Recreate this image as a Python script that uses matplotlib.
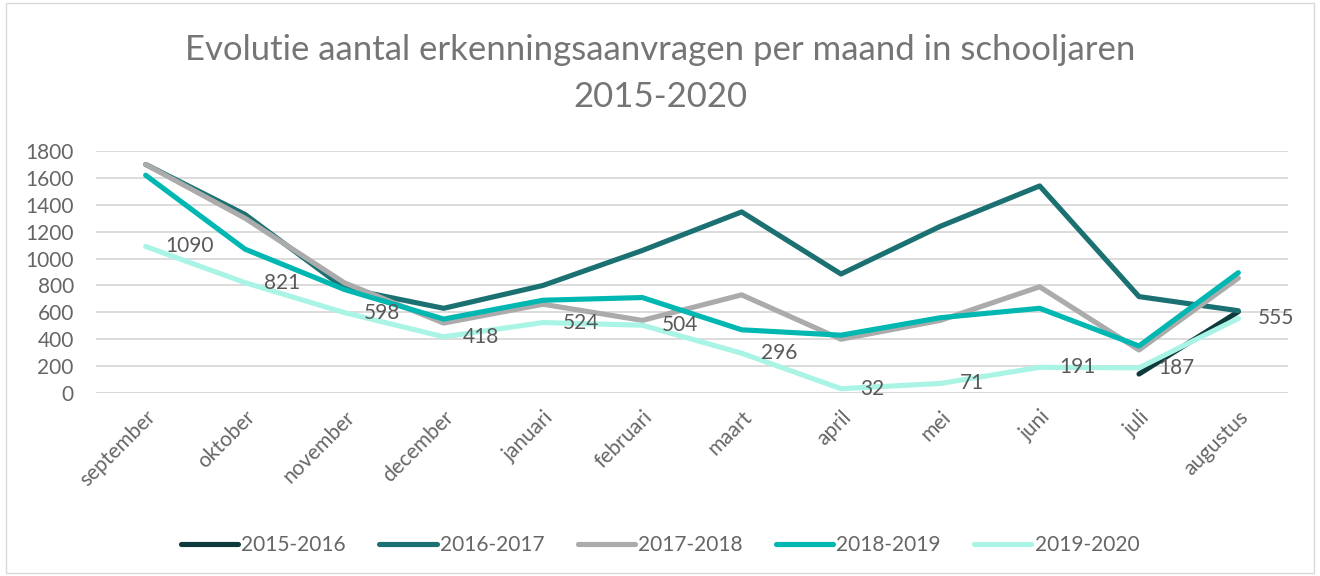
import matplotlib
matplotlib.use("Agg")
import matplotlib.pyplot as plt
import numpy as np

months = ["september", "oktober", "november", "december", "januari", "februari",
          "maart", "april", "mei", "juni", "juli", "augustus"]
s2015 = [None, None, None, None, None, None, None, None, None, None, 141, 605]
s2016 = [1700, 1328, 780, 630, 800, 1060, 1347, 885, 1240, 1540, 717, 612]
s2017 = [1700, 1300, 820, 520, 660, 540, 730, 400, 540, 790, 320, 855]
s2018 = [1620, 1070, 770, 550, 690, 710, 470, 430, 560, 630, 350, 895]
s2019 = [1090, 821, 598, 418, 524, 504, 296, 32, 71, 191, 187, 555]
series_names = ["2015-2016", "2016-2017", "2017-2018", "2018-2019", "2019-2020"]
colors = ["#0f3a3c", "#1b7171", "#ababab", "#00b7b1", "#aaf4e6"]
yticks = [0, 200, 400, 600, 800, 1000, 1200, 1400, 1600, 1800]

plt.rcParams['font.family'] = ['Lato', 'DejaVu Sans']
txt = "#666666"

fig = plt.figure(figsize=(13.2, 5.76), dpi=100)
ax = fig.add_axes([96/1320, 1 - 393/576, (1288-96)/1320, (393-151)/576])

x = np.arange(len(months))
for name, vals, c in zip(series_names, [s2015, s2016, s2017, s2018, s2019], colors):
    arr = np.array([np.nan if v is None else v for v in vals], dtype=float)
    ax.plot(x, arr, color=c, lw=3.7, label=name, solid_capstyle='round',
            solid_joinstyle='round')

for xi, v in zip(x, s2019):
    ax.annotate(str(v), (xi, v), xytext=(14, 0), textcoords='offset points',
                ha='left', va='center', fontsize=15, color="#595959")

ax.set_xlim(-0.5, 11.5)
ax.set_ylim(0, 1800)
ax.set_yticks(yticks)
ax.set_yticklabels([str(t) for t in yticks], fontsize=15, color=txt)
ax.set_xticks(x)
ax.set_xticklabels(months, rotation=45, ha='right', rotation_mode='anchor',
                   fontsize=15, color=txt)
ax.tick_params(axis='y', length=0, pad=16)
ax.tick_params(axis='x', length=0, pad=10)
ax.grid(axis='y', color="#d9d9d9", lw=1.3)
ax.set_axisbelow(True)
for sp in ax.spines.values():
    sp.set_visible(False)
ax.axhline(0, color="#d9d9d9", lw=1.3, zorder=0)

fig.text(0.5, 1 - 50/576, "Evolutie aantal erkenningsaanvragen per maand in schooljaren",
         ha='center', va='center', fontsize=25, color="#757575")
fig.text(0.5, 1 - 97/576, "2015-2020", ha='center', va='center', fontsize=25,
         color="#757575")

leg = fig.legend(loc='center', bbox_to_anchor=(0.5, 1 - 545/576), ncol=5,
                 frameon=False, fontsize=15, handlelength=2.75, handletextpad=0.15,
                 columnspacing=1.6, labelcolor=txt)

rect = plt.Rectangle((6/1320, 3/576), 1 - 12/1320, 1 - 6/576, transform=fig.transFigure,
                     fill=False, edgecolor="#d9d9d9", lw=1)
fig.add_artist(rect)

fig.savefig("out.png", dpi=100, facecolor="white")
